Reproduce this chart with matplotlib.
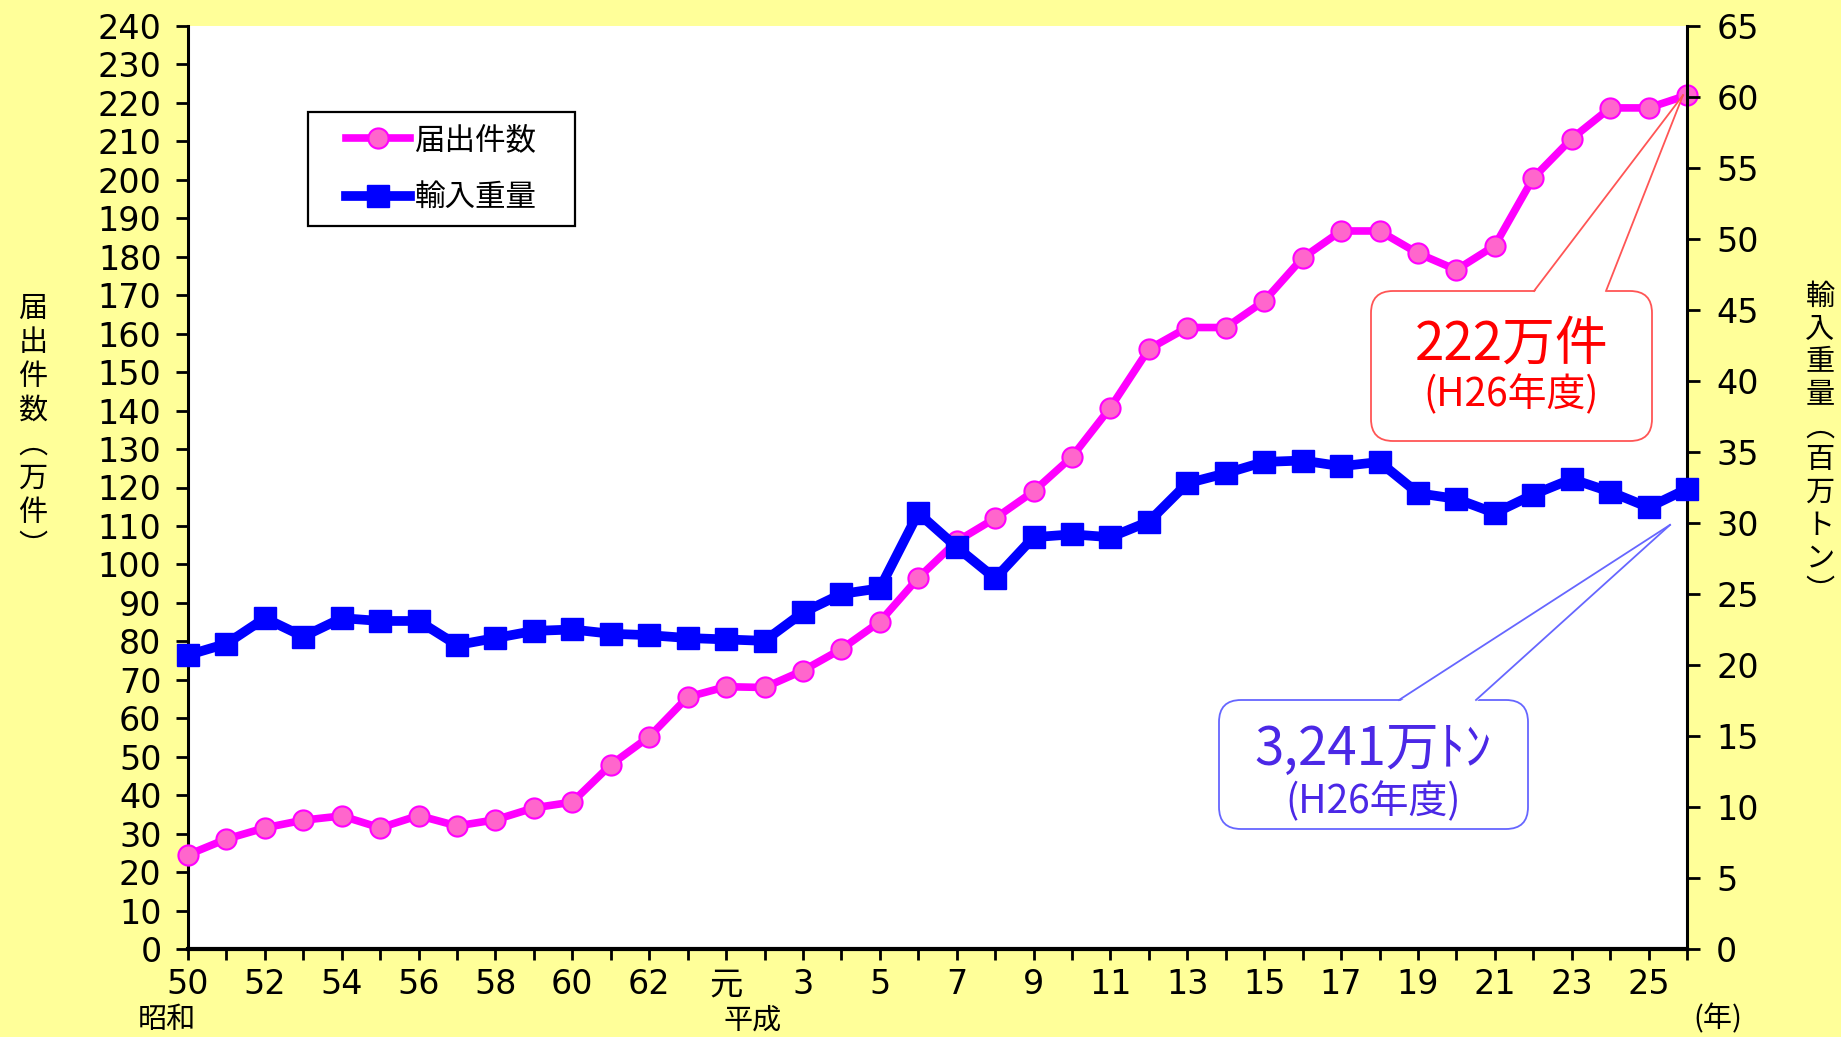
import matplotlib
matplotlib.use("Agg")
import matplotlib.pyplot as plt
from matplotlib.patches import FancyBboxPatch, Polygon, Rectangle
from matplotlib.lines import Line2D
from matplotlib.transforms import IdentityTransform

plt.rcParams['font.family'] = ['DejaVu Sans', 'Noto Sans CJK JP']
JP = ['Noto Sans CJK JP', 'DejaVu Sans']

# 昭和50年 ～ 平成26年
x_idx = list(range(40))
tick_pos = list(range(0, 39, 2))
tick_labels = ['50', '52', '54', '56', '58', '60', '62', '元',
               '3', '5', '7', '9', '11', '13', '15', '17', '19', '21', '23', '25']

# 届出件数（万件）
notify_count = [24.5, 28.6, 31.5, 33.5, 34.6, 31.5, 34.7, 32.0, 33.6, 36.7,
                38.2, 47.9, 55.2, 65.5, 68.2, 68.0, 72.4, 78.0, 85.1, 96.5,
                106.0, 112.0, 119.0, 128.0, 140.8, 156.0, 161.6, 161.6, 168.5, 179.7,
                186.7, 186.7, 180.9, 176.6, 182.9, 200.5, 210.7, 218.7, 218.7, 222.0]

# 輸入重量（百万トン）
import_weight = [20.7, 21.5, 23.3, 22.0, 23.3, 23.1, 23.1, 21.4, 21.9, 22.4,
                 22.5, 22.2, 22.1, 21.9, 21.8, 21.7, 23.7, 25.0, 25.4, 30.7,
                 28.3, 26.1, 29.0, 29.2, 29.0, 30.1, 32.8, 33.5, 34.3, 34.4,
                 34.0, 34.3, 32.1, 31.7, 30.7, 32.0, 33.1, 32.2, 31.1, 32.4]

W, H = 1841, 1037
BG = '#FFFF99'
PINK = '#FF00FF'
PINK_FACE = '#FF66CC'
BLUE = '#0000FF'

pink_style = dict(color=PINK, lw=5.5, marker='o', ms=14.5, mfc=PINK_FACE, mec=PINK, mew=1.5)
blue_style = dict(color=BLUE, lw=7, marker='s', ms=15.5, mfc=BLUE, mec=BLUE)

fig = plt.figure(figsize=(W / 100, H / 100), dpi=100, facecolor=BG)
left, right, top, bottom = 188, 1687, 26, 949
ax = fig.add_axes([left / W, 1 - bottom / H, (right - left) / W, (bottom - top) / H])
ax.set_facecolor('white')
ax2 = ax.twinx()

ax.plot(x_idx, notify_count, clip_on=False, zorder=3, **pink_style)
ax2.plot(x_idx, import_weight, clip_on=False, zorder=3, **blue_style)

ax.set_xlim(0, 39)
ax.set_ylim(0, 240)
ax2.set_ylim(0, 65)
ax.set_yticks(range(0, 241, 10))
ax2.set_yticks(range(0, 66, 5))
ax.set_xticks(tick_pos)
ax.set_xticklabels(tick_labels)
ax.set_xticks(x_idx, minor=True)

ax.tick_params(axis='y', direction='out', length=9, width=2, labelsize=24, pad=10)
ax2.tick_params(axis='y', direction='out', length=9, width=2, labelsize=24, pad=12)
ax.tick_params(axis='x', which='both', direction='out', length=8, width=2,
               labelsize=24, pad=6)

ax.spines['top'].set_visible(False)
ax2.spines['top'].set_visible(False)
ax2.spines['left'].set_visible(False)
ax2.spines['bottom'].set_visible(False)
ax.spines['right'].set_visible(False)
ax.spines['left'].set_linewidth(2.2)
ax.spines['bottom'].set_linewidth(3)
ax2.spines['right'].set_linewidth(2.2)

# axis titles (vertical text)
fig.text(33 / W, 1 - 428 / H, '\n'.join('届出件数︵万件︶'), ha='center', va='center',
         fontsize=21, linespacing=1.17, family=JP)
fig.text(1820 / W, 1 - 444 / H, '\n'.join('輸入重量︵百万トン︶'), ha='center', va='center',
         fontsize=21, linespacing=1.12, family=JP)
fig.text(167 / W, 1 - 1020 / H, '昭和', ha='center', va='center', fontsize=21, family=JP)
fig.text(753 / W, 1 - 1021 / H, '平成', ha='center', va='center', fontsize=21, family=JP)
fig.text(1718 / W, 1 - 1019 / H, '(年)', ha='center', va='center', fontsize=21, family=JP)

# legend: frame drawn separately so the padding matches
t_id = IdentityTransform()
ax2.add_patch(Rectangle((308, H - 226), 267, 114, fc='white', ec='black', lw=1.6,
                        transform=t_id, clip_on=False, zorder=4))
handles = [Line2D([], [], **pink_style), Line2D([], [], **blue_style)]
leg = ax2.legend(handles, ['届出件数', '輸入重量'], loc='center',
                 bbox_to_anchor=(441 / W, 1 - 169 / H), bbox_transform=fig.transFigure,
                 prop={'family': JP, 'size': 22}, frameon=False,
                 handlelength=2.1, labelspacing=0.87, borderpad=0.2,
                 handletextpad=0.15, borderaxespad=0)
leg.set_zorder(6)


def callout(x0, y0, x1, y1, bxa, bxb, tip, edge, color, lines):
    # box in image pixels (y from top); tip in display coords
    box = FancyBboxPatch((x0, H - y1), x1 - x0, y1 - y0,
                         boxstyle='round,pad=0,rounding_size=22',
                         fc='white', ec=edge, lw=1.3, transform=t_id, zorder=10)
    fig.add_artist(box)
    wedge = Polygon([(bxa, H - y0 - 2), (tip[0], tip[1]), (bxb, H - y0 - 2)],
                    closed=True, fc='white', ec='none', transform=t_id, zorder=11)
    fig.add_artist(wedge)
    for bx in (bxa, bxb):
        fig.add_artist(Line2D([bx, tip[0]], [H - y0, tip[1]], color=edge, lw=1.3,
                              transform=t_id, zorder=12))
    for text, ty, fs in lines:
        fig.text((x0 + x1) / 2 / W, 1 - ty / H, text, ha='center', va='center',
                 fontsize=fs, color=color, family=JP, zorder=13)


fig.canvas.draw()
tip_red = ax.transData.transform((x_idx[-1], notify_count[-1]))
tip_blue = ax2.transData.transform((x_idx[-1], import_weight[-1]))

callout(1371, 291, 1652, 441, 1534, 1606, (tip_red[0] - 4, tip_red[1]), '#FF5555', '#FF0000',
        [('222万件', 344, 38), ('(H26年度)', 395, 28)])
callout(1219, 700, 1528, 829, 1399, 1476, (tip_blue[0] - 17, tip_blue[1] - 36), '#6666FF',
        '#4B28E6', [('3,241万ﾄﾝ', 749, 38), ('(H26年度)', 802, 28)])

fig.savefig('out.png', dpi=100, facecolor=BG)
